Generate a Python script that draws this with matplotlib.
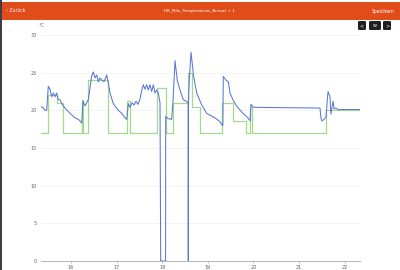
import matplotlib
matplotlib.use("Agg")
import matplotlib.pyplot as plt
from matplotlib.patches import Rectangle, FancyBboxPatch

# day-of-month positions and readings
blue_days = [15.342, 15.393, 15.430, 15.467, 15.502, 15.539, 15.577, 15.612, 15.649, 15.686,
             15.721, 15.759, 15.796, 15.868, 15.978, 16.088, 16.160, 16.197, 16.235, 16.263,
             16.307, 16.343, 16.379, 16.417, 16.450, 16.489, 16.526, 16.564, 16.599, 16.636,
             16.680, 16.724, 16.783, 16.818, 16.855, 16.928, 17.037, 17.112, 17.184, 17.221,
             17.257, 17.294, 17.338, 17.382, 17.425, 17.469, 17.513, 17.550, 17.586, 17.623,
             17.660, 17.695, 17.732, 17.770, 17.805, 17.842, 17.879, 17.914, 17.952, 17.967,
             17.970, 18.074, 18.077, 18.127, 18.208, 18.240, 18.281, 18.330, 18.390, 18.463,
             18.537, 18.570, 18.572, 18.575, 18.590, 18.632, 18.690, 18.757, 18.860, 18.976,
             19.158, 19.268, 19.305, 19.330, 19.340, 19.400, 19.450, 19.487, 19.560, 19.640,
             19.772, 19.882, 19.930, 19.947, 20.000, 21.461, 21.480, 21.504, 21.550, 21.592,
             21.636, 21.680, 21.700, 21.746, 21.770, 21.811, 21.855, 22.338]
blue_vals = [20.5, 20.3, 20.0, 20.0, 23.2, 22.8, 21.8, 22.3, 21.8, 22.3,
             21.4, 21.4, 20.9, 20.3, 19.6, 19.0, 18.8, 18.6, 18.3, 21.2,
             20.6, 21.0, 21.4, 23.0, 24.5, 25.1, 24.3, 24.7, 23.8, 24.3,
             24.0, 23.8, 24.7, 23.6, 22.3, 20.9, 20.0, 19.6, 19.0, 18.8,
             20.9, 20.4, 21.0, 20.7, 21.2, 20.8, 21.5, 22.6, 23.4, 22.8,
             23.4, 22.7, 23.4, 22.5, 23.4, 22.3, 22.7, 22.3, 21.0, 0.0,
             0.0, 0.0, 19.2, 18.9, 18.8, 21.5, 26.6, 24.0, 22.7, 21.4,
             21.2, 21.0, 0.0, 21.0, 23.5, 27.7, 24.5, 22.3, 20.8, 19.6,
             19.0, 18.5, 18.1, 18.0, 24.5, 24.0, 23.8, 22.3, 21.3, 20.5,
             19.6, 19.0, 18.6, 20.8, 20.4, 20.3, 19.0, 18.6, 18.8, 19.1,
             22.5, 21.8, 19.5, 21.2, 20.2, 20.3, 20.1, 20.1]

green_days = [15.342, 15.502, 15.686, 15.825, 16.235, 16.270, 16.379, 16.818, 17.221, 17.294,
              17.879, 18.077, 18.237, 18.572, 18.645, 18.836, 19.317, 19.550, 19.827, 19.925,
              19.961, 21.592, 22.338]
green_vals = [17.0, 22.0, 21.0, 17.0, 21.4, 17.0, 24.0, 17.0, 21.2, 17.0,
              23.0, 17.0, 21.0, 25.0, 20.5, 17.0, 21.0, 18.6, 17.0, 20.5,
              17.0, 20.1, 20.1]

y_ticks = [0, 5, 10, 15, 20, 25, 30]
x_ticks = [16, 17, 18, 19, 20, 21, 22]

fig = plt.figure(figsize=(4, 2.7), dpi=100)
fig.patch.set_facecolor("white")

# top bar of the app
fig.patches.append(Rectangle((0, 1 - 20 / 270), 1, 18 / 270, transform=fig.transFigure,
                             facecolor="#e14c1b", edgecolor="none"))
fig.patches.append(Rectangle((0, 0), 2 / 400, 1, transform=fig.transFigure,
                             facecolor="#3a3f44", edgecolor="none"))
fig.text(6 / 400, 1 - 11 / 270, "\u2039 Zurück", color="white", fontsize=3.3, va="center")
fig.text(0.5, 1 - 11 / 270, "HK_Nils_Temperature_Actual + 1", color="white", fontsize=3.2,
         va="center", ha="center")
fig.text(394 / 400, 1 - 11 / 270, "Speichern", color="white", fontsize=3.3, va="center", ha="right")

# nav buttons
for x0, w, lab in [(358, 8, "<"), (369, 12, "w"), (383, 8, ">")]:
    fig.patches.append(FancyBboxPatch((x0 / 400, 1 - 30 / 270), w / 400, 9 / 270,
                                      boxstyle="round,pad=0,rounding_size=0.004",
                                      transform=fig.transFigure, facecolor="#1f1f1f",
                                      edgecolor="none"))
    fig.text((x0 + w / 2) / 400, 1 - 25.5 / 270, lab, color="white", fontsize=3.5,
             ha="center", va="center")

ax = fig.add_axes([41 / 400, 9 / 270, 319 / 400, 226 / 270])
ax.plot(green_days, green_vals, drawstyle="steps-post", color="#a3d98a", lw=0.9)
ax.plot(blue_days, blue_vals, color="#5b77d6", lw=0.75)

ax.set_xlim(15.342, 22.338)
ax.set_ylim(0, 30)
ax.set_yticks(y_ticks)
ax.set_xticks(x_ticks)
ax.tick_params(axis="y", length=0, labelsize=3.5, labelcolor="#666666", pad=3)
ax.tick_params(axis="x", length=1.5, width=0.4, color="#999999", labelsize=3.5,
               labelcolor="#666666", pad=1.5)
ax.grid(axis="y", color="#f0f0f0", lw=0.5)
ax.set_axisbelow(True)
for s in ["top", "right", "left"]:
    ax.spines[s].set_visible(False)
ax.spines["bottom"].set_color("#aaaaaa")
ax.spines["bottom"].set_linewidth(0.6)
ax.text(0, 1.035, "°C", transform=ax.transAxes, fontsize=3.5, color="#666666", ha="center")

fig.savefig("out.png", dpi=100)
